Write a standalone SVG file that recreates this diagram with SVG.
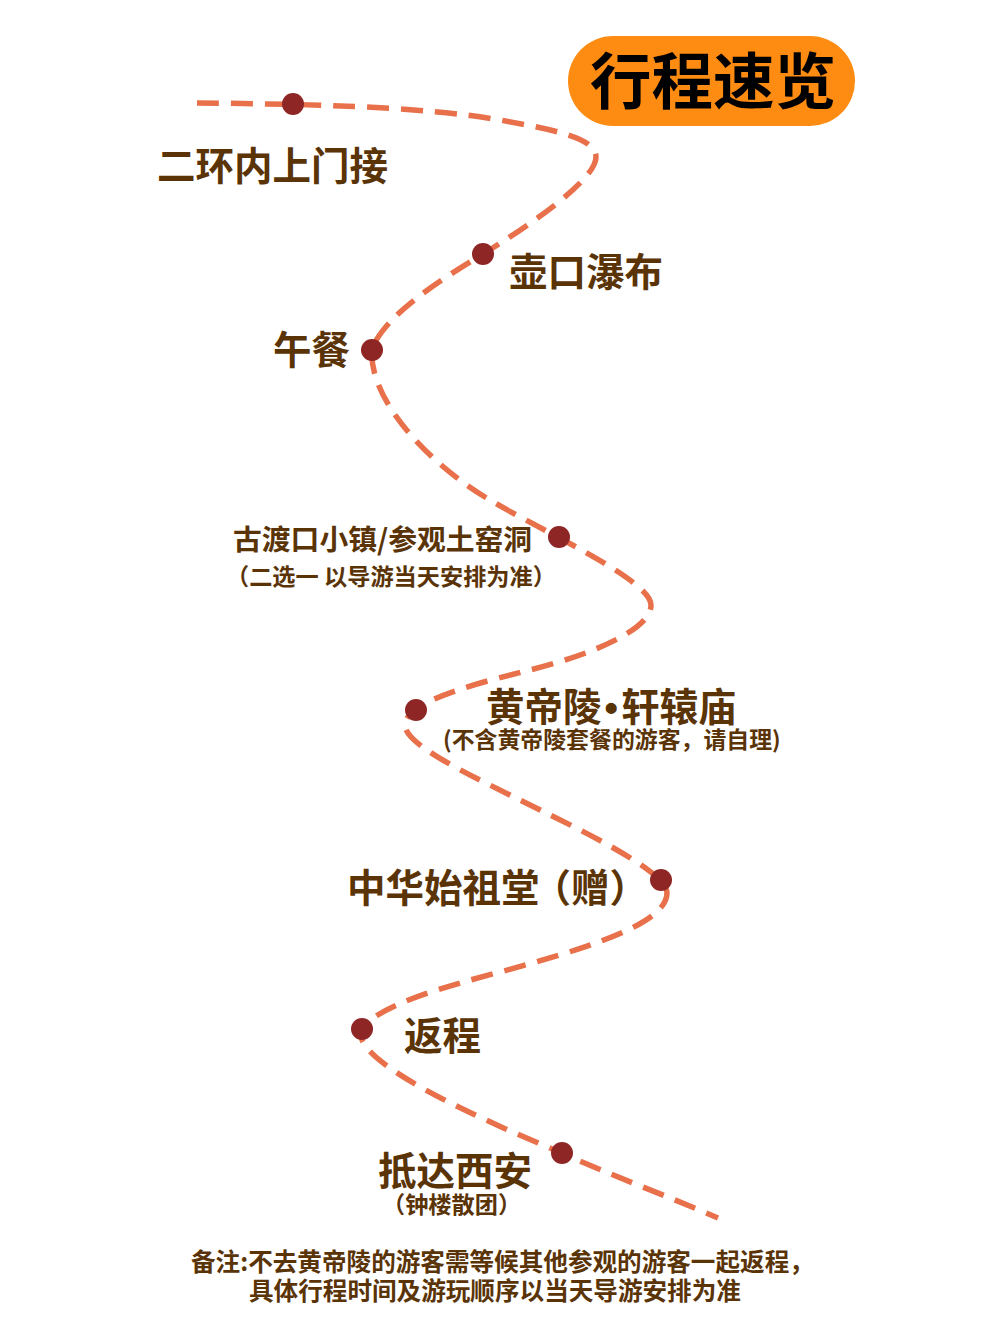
<svg xmlns="http://www.w3.org/2000/svg" width="1000" height="1334" viewBox="0 0 1000 1334">
<style>
text{font-family:"Noto Sans CJK SC","Noto Sans",sans-serif;font-weight:700;fill:#5a3407}
.l{font-size:38.5px}.m{font-size:28.8px}.s{font-size:23.2px}.t{font-size:22.9px}.n{font-size:24.6px}
.d{fill:#8f2626}
.b{font-family:"Liberation Sans",sans-serif}
#route{fill:none;stroke:#e8704a;stroke-width:5.5;stroke-dasharray:22 12}
</style>
<rect width="1000" height="1334" fill="#fff"/>
<g id="connectors">
<path id="route" d="M197 103C300 104 420 106 500 120C555 130 596 138 596 157C596 180 530 225 483 254C440 280 385 315 372 349C368 400 430 465 490 500C540 530 651 580 651 605C651 630 590 655 530 670C490 680 405 700 405 725C405 745 470 775 520 800C570 825 667 870 667 893C667 925 580 950 500 972C440 988 380 1005 361 1029C350 1060 470 1115 562 1153C610 1175 670 1197 718 1218"/>
</g>
<g id="title">
<rect x="568" y="36" width="287" height="90" rx="45" fill="#ff8c12"/>
<text x="590" y="104" font-size="61.5" style="fill:#000">行程速览</text>
</g>
<g id="n1"><ellipse class="d" cx="293" cy="104" rx="11" ry="11"/><text class="l" x="157" y="180">二环内上门接</text></g>
<g id="n2"><ellipse class="d" cx="483" cy="254" rx="11" ry="11"/><text class="l" x="509" y="286">壶口瀑布</text></g>
<g id="n3"><ellipse class="d" cx="372" cy="350" rx="11" ry="11"/><text class="l" x="273" y="364">午餐</text></g>
<g id="n4"><ellipse class="d" cx="559" cy="537" rx="11" ry="11"/><text class="m" x="233" y="550">古渡口小镇/参观土窑洞</text><text class="s" x="226" y="585">（二选一 以导游当天安排为准）</text></g>
<g id="n5"><ellipse class="d" cx="416" cy="710" rx="11" ry="11"/><text class="l" x="486" y="721">黄帝陵<tspan class="b" dx="3">•</tspan><tspan dx="3">轩辕庙</tspan></text><text class="t" x="443" y="748">(不含黄帝陵套餐的游客，请自理)</text></g>
<g id="n6"><ellipse class="d" cx="661" cy="880" rx="11" ry="11"/><text class="l" x="347" y="902">中华始祖堂<tspan dx="-7">（赠）</tspan></text></g>
<g id="n7"><ellipse class="d" cx="362" cy="1029" rx="11" ry="11"/><text class="l" x="404" y="1050">返程</text></g>
<g id="n8"><ellipse class="d" cx="562" cy="1153" rx="11" ry="11"/><text class="l" x="378" y="1185">抵达西安</text><text class="s" x="382" y="1213">（钟楼散团）</text></g>
<g id="note"><text class="n" x="191" y="1271">备注:不去黄帝陵的游客需等候其他参观的游客一起返程，</text><text class="n" x="249" y="1300">具体行程时间及游玩顺序以当天导游安排为准</text></g>
</svg>
